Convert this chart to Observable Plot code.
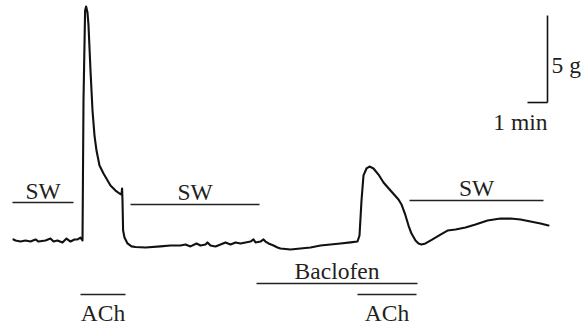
<!DOCTYPE html>
<html>
<head>
<meta charset="utf-8">
<script src="https://cdn.jsdelivr.net/npm/d3@7"></script>
<script src="https://cdn.jsdelivr.net/npm/@observablehq/plot@0.6"></script>
<style>
  html, body { margin: 0; padding: 0; background: #fff; }
  svg { display: block; }
</style>
</head>
<body>
<div id="chart"></div>
<script>
// Time (min) and tension (g, relative to initial baseline) of the recorded trace
const traceTime = [0,0.1,0.35,0.6,0.85,1.1,1.25,1.6,1.85,2.0,2.2,2.45,2.65,2.85,3.05,3.2,3.35,3.45,3.5,3.58,3.63,3.7,3.75,3.85,3.95,4.05,4.15,4.3,4.5,4.85,5.1,5.3,5.4,5.43,5.45,5.48,5.55,5.7,5.9,6.1,6.6,7.35,7.85,8.35,8.6,8.85,9.15,9.35,9.6,9.7,9.85,10.1,10.35,10.6,10.85,11.1,11.35,11.6,11.85,12.0,12.1,12.35,12.5,12.6,12.75,13.0,13.2,13.35,13.85,14.35,14.85,15.35,15.85,16.35,16.85,17.2,17.3,17.4,17.5,17.65,17.8,18.0,18.25,18.5,18.85,19.25,19.4,19.6,19.75,19.9,20.1,20.25,20.4,20.6,20.95,21.35,21.7,22.1,22.6,23.1,23.7,24.35,24.85,25.35,25.85,26.35,26.75];
const traceForce = [0.06,0,-0.06,0,-0.06,0.06,-0.06,0,0.11,-0.06,0,-0.11,0.11,-0.06,0.06,0.06,0.17,0,8.05,13.22,13.45,13.1,12.36,9.77,7.47,6.03,5.17,4.31,3.85,3.16,2.87,2.70,2.64,2.99,2.30,0.57,0.17,-0.17,-0.34,-0.37,-0.40,-0.34,-0.29,-0.29,-0.23,-0.34,-0.17,-0.29,-0.23,-0.11,-0.29,-0.34,-0.23,-0.11,-0.23,-0.11,-0.17,-0.11,-0.06,0.06,-0.11,-0.06,0.06,-0.06,-0.17,-0.29,-0.40,-0.46,-0.52,-0.46,-0.40,-0.29,-0.23,-0.17,-0.11,-0.06,0.29,2.30,3.74,4.14,4.25,4.14,3.79,3.33,2.87,2.36,2.07,1.44,0.86,0.40,0,-0.17,-0.23,-0.17,0.06,0.34,0.57,0.63,0.75,0.92,1.15,1.26,1.26,1.21,1.09,0.98,0.86];

// Treatment bars: label, start (min), end (min), level (g on the same axis)
const barLabels = ["SW", "ACh", "SW", "Baclofen", "ACh", "SW"];
const barStart  = [-0.05, 3.35, 5.85, 12.15, 17.2, 19.8];
const barEnd    = [3.0, 5.6, 12.3, 20.2, 20.15, 26.5];
const barLevel  = [2.18, -3.10, 2.07, -2.47, -3.10, 2.30];
const labelSide = ["above", "below", "above", "above", "below", "above"];

// Scale bar: 1 min horizontal, 5 g vertical
const scaleTime = [25.7, 26.7];
const scaleForce = [7.93, 12.93];
const scaleLabels = ["1 min", "5 g"];

const trace = traceTime.map((t, i) => ({t, g: traceForce[i]}));
const bars = barLabels.map((label, i) => ({
  label, x1: barStart[i], x2: barEnd[i], y: barLevel[i], side: labelSide[i],
  xm: (barStart[i] + barEnd[i]) / 2
}));
const above = bars.filter(d => d.side === "above");
const below = bars.filter(d => d.side === "below");

const font = "'Liberation Serif', 'Times New Roman', serif";
const fs = 23.5;

const chart = Plot.plot({
  width: 583,
  height: 327,
  margin: 0,
  x: {domain: [0, 26.75], range: [13, 548], axis: null},
  y: {domain: [0, 5], range: [240, 153], axis: null},
  style: {fontFamily: font, background: "#fff"},
  marks: [
    Plot.line(trace, {x: "t", y: "g", stroke: "#111", strokeWidth: 2.1, strokeLinejoin: "round", strokeLinecap: "round"}),
    Plot.link(bars, {x1: "x1", x2: "x2", y1: "y", y2: "y", stroke: "#222", strokeWidth: 1.6}),
    Plot.text(above, {x: "xm", y: "y", text: "label", dy: -4, lineAnchor: "bottom", fontSize: fs, fill: "#231f20", fontFamily: font}),
    Plot.text(below, {x: "xm", y: "y", text: "label", dy: 10, lineAnchor: "top", fontSize: fs, fill: "#231f20", fontFamily: font}),
    Plot.link([{x1: scaleTime[0], x2: scaleTime[1], y1: scaleForce[0], y2: scaleForce[0]},
               {x1: scaleTime[1], x2: scaleTime[1], y1: scaleForce[0], y2: scaleForce[1]}],
      {x1: "x1", x2: "x2", y1: "y1", y2: "y2", stroke: "#111", strokeWidth: 1.6}),
    Plot.text([scaleLabels[0]], {x: scaleTime[1], y: scaleForce[0], text: d => d, dy: 27, lineAnchor: "bottom", textAnchor: "end", fontSize: fs, fill: "#231f20", fontFamily: font}),
    Plot.text([scaleLabels[1]], {x: scaleTime[1], y: (scaleForce[0] + scaleForce[1]) / 2, text: d => d, dx: 4, dy: 6, lineAnchor: "middle", textAnchor: "start", fontSize: fs, fill: "#231f20", fontFamily: font})
  ]
});
document.getElementById("chart").appendChild(chart);
</script>
</body>
</html>
